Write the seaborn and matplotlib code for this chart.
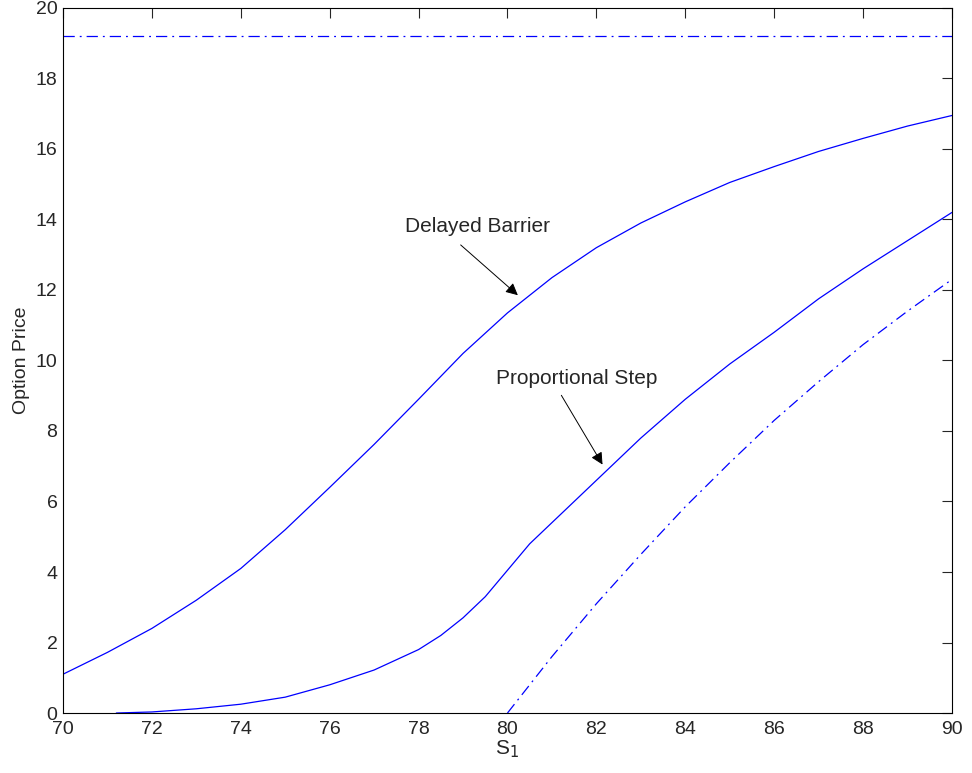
import numpy as np
import pandas as pd
import matplotlib
matplotlib.use("Agg")
import matplotlib.pyplot as plt
import seaborn as sns

# delayed barrier curve
s_delayed = [70, 71, 72, 73, 74, 75, 76, 77, 78, 79, 80, 81, 82, 83, 84, 85, 86, 87, 88, 89, 90]
p_delayed = [1.1, 1.72, 2.4, 3.2, 4.1, 5.2, 6.4, 7.62, 8.9, 10.2, 11.35, 12.35, 13.2, 13.9, 14.5, 15.05, 15.5, 15.93, 16.3, 16.65, 16.95]

# proportional step curve
s_step = [71.2, 72, 73, 74, 75, 76, 77, 78, 78.5, 79, 79.5, 80, 80.5, 81, 82, 83, 84, 85, 86, 87, 88, 89, 90]
p_step = [0.0, 0.03, 0.12, 0.25, 0.45, 0.8, 1.22, 1.8, 2.2, 2.7, 3.3, 4.05, 4.8, 5.4, 6.6, 7.8, 8.9, 9.9, 10.8, 11.75, 12.6, 13.4, 14.2]

# standard barrier (dash-dot)
s_std = [80.0, 81, 82, 83, 84, 85, 86, 87, 88, 89, 90]
p_std = [0.0, 1.6, 3.1, 4.5, 5.85, 7.1, 8.3, 9.4, 10.45, 11.4, 12.3]

# vanilla level
s_flat = [70, 90]
p_flat = [19.2, 19.2]

sns.set_style("white")
plt.rcParams['font.family'] = ['Liberation Sans', 'DejaVu Sans']

fig = plt.figure(figsize=(9.72, 7.73), dpi=100)
ax = fig.add_axes([0.0648, 0.0776, 0.9146, 0.9121])

blue = "#0000ff"
dashdot = (0, (9, 4, 1.5, 4))
sns.lineplot(x=s_delayed, y=p_delayed, ax=ax, color=blue, lw=0.9)
sns.lineplot(x=s_step, y=p_step, ax=ax, color=blue, lw=0.9)
sns.lineplot(x=s_std, y=p_std, ax=ax, color=blue, lw=0.9, linestyle=dashdot)
sns.lineplot(x=s_flat, y=p_flat, ax=ax, color=blue, lw=0.9, linestyle=dashdot)

ax.set_xlim(70, 90)
ax.set_ylim(0, 20)
ax.set_xticks(np.arange(70, 91, 2))
ax.set_yticks(np.arange(0, 21, 2))
ax.tick_params(direction="in", length=7, top=True, right=True, labelsize=14, width=0.8, pad=4)
ax.tick_params(axis="x", pad=6)
for sp in ax.spines.values():
    sp.set_color("black")
    sp.set_linewidth(0.8)

ax.set_xlabel("S$_1$", fontsize=15, labelpad=0)
ax.set_ylabel("Option Price", fontsize=14, labelpad=4)

arrow = dict(arrowstyle="-|>", color="black", lw=0.7, mutation_scale=18)
ax.annotate("", xy=(80.28, 11.8), xytext=(78.9, 13.33), arrowprops=arrow)
ax.text(77.7, 13.8, "Delayed Barrier", fontsize=15, va="center")
ax.annotate("", xy=(82.17, 6.98), xytext=(81.18, 9.08), arrowprops=arrow)
ax.text(79.75, 9.5, "Proportional Step", fontsize=15, va="center")

fig.savefig("out.png", dpi=100)
